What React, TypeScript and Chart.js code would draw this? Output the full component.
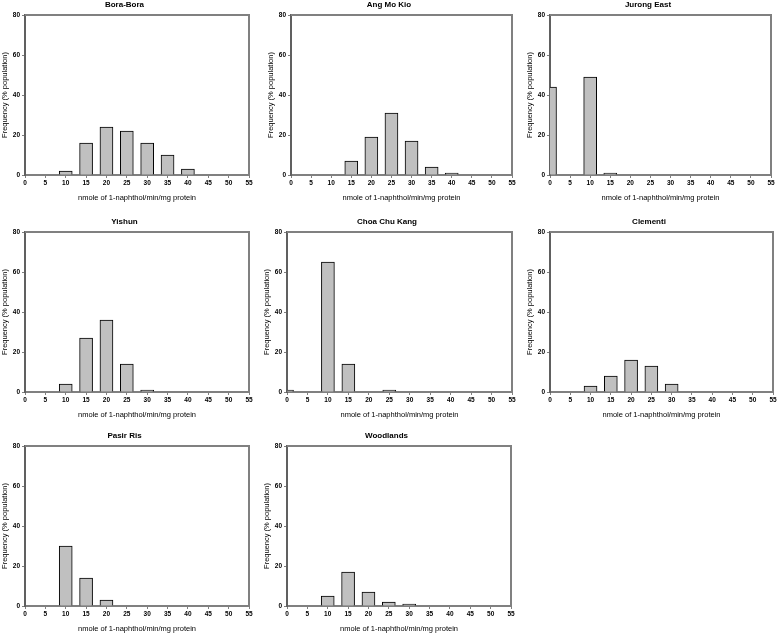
import React, { useEffect, useRef } from "react";
import { Chart, registerables } from "chart.js";

Chart.register(...registerables);

const BINS = [0, 5, 10, 15, 20, 25, 30, 35, 40, 45, 50, 55];
const Y_TICKS = [0, 20, 40, 60, 80];

const boraBora = [0, 0, 2, 16, 24, 22, 16, 10, 3, 0, 0, 0];
const angMoKio = [0, 0, 0, 7, 19, 31, 17, 4, 1, 0, 0, 0];
const jurongEast = [44, 0, 49, 1, 0, 0, 0, 0, 0, 0, 0, 0];
const yishun = [0, 0, 4, 27, 36, 14, 1, 0, 0, 0, 0, 0];
const choaChuKang = [1, 0, 65, 14, 0, 1, 0, 0, 0, 0, 0, 0];
const clementi = [0, 0, 3, 8, 16, 13, 4, 0, 0, 0, 0, 0];
const pasirRis = [0, 0, 30, 14, 3, 0, 0, 0, 0, 0, 0, 0];
const woodlands = [0, 0, 5, 17, 7, 2, 1, 0, 0, 0, 0, 0];

const TITLES = ["Bora-Bora", "Ang Mo Kio", "Jurong East", "Yishun", "Choa Chu Kang", "Clementi", "Pasir Ris", "Woodlands"];
const SERIES = [boraBora, angMoKio, jurongEast, yishun, choaChuKang, clementi, pasirRis, woodlands];

const X_TITLE = "nmole of 1-naphthol/min/mg protein";
const Y_TITLE = "Frequency (% population)";

// plot-area rectangles on the page: [left, top, right, bottom]
const AREAS: number[][] = [
  [24.5, 15, 249, 175],
  [291, 15, 512, 175],
  [550, 15, 771, 175],
  [24.5, 232, 249, 392],
  [287, 232, 512, 392],
  [550, 232, 773, 392],
  [24.5, 446, 249, 606],
  [287, 446, 511, 606],
];

const Y_W = 25;
const TOP_H = 17;
const X_H = 27;
const RIGHT_PAD = 8;
const FONT = "'Liberation Sans', Arial, Helvetica, sans-serif";
const GRAY = "#808080";

const framePlugin = {
  id: "frame",
  afterDatasetsDraw(chart: any) {
    const { ctx, chartArea } = chart;
    ctx.save();
    ctx.strokeStyle = GRAY;
    ctx.lineWidth = 2;
    ctx.beginPath();
    ctx.moveTo(chartArea.left, chartArea.top);
    ctx.lineTo(chartArea.right, chartArea.top);
    ctx.lineTo(chartArea.right, chartArea.bottom);
    ctx.stroke();
    ctx.restore();
  },
};

function Panel({ idx }: { idx: number }) {
  const ref = useRef<HTMLCanvasElement>(null);
  const [l, t, r, b] = AREAS[idx];
  const w = Y_W + (r - l) + RIGHT_PAD;
  const h = TOP_H + (b - t) + X_H;
  useEffect(() => {
    const values = SERIES[idx];
    const data = BINS.map((x, i) => ({ x, y: values[i] })).filter((p) => p.y > 0);
    const chart = new Chart(ref.current as HTMLCanvasElement, {
      type: "bar",
      data: {
        datasets: [
          {
            data: data as any,
            backgroundColor: "#c0c0c0",
            borderColor: "#000000",
            borderWidth: 1,
            barThickness: 13,
            clip: 0 as any,
          },
        ],
      },
      options: {
        animation: false,
        responsive: false,
        events: [],
        layout: { padding: { left: 0, top: 0, right: RIGHT_PAD, bottom: 0 } },
        plugins: {
          legend: { display: false },
          tooltip: { enabled: false },
          title: {
            display: true,
            text: TITLES[idx],
            color: "#000",
            font: { family: FONT, size: 8, weight: "bold", lineHeight: 1.2 },
            padding: { top: 2, bottom: 5.4 },
          },
        },
        scales: {
          x: {
            type: "linear",
            min: 0,
            max: 55,
            offset: false,
            afterBuildTicks: (s: any) => {
              s.ticks = BINS.map((v) => ({ value: v }));
            },
            afterFit: (s: any) => {
              s.height = X_H;
              s.paddingLeft = 0;
              s.paddingRight = 0;
            },
            ticks: {
              color: "#000",
              font: { family: FONT, size: 6.5, weight: "bold" },
              padding: 1,
              maxRotation: 0,
              autoSkip: false,
            },
            grid: { display: true, drawOnChartArea: false, drawTicks: true, tickLength: 3, color: GRAY, offset: false },
            border: { display: true, color: GRAY, width: 2 },
            title: {
              display: true,
              text: X_TITLE,
              color: "#000",
              font: { family: FONT, size: 7.5, lineHeight: 1.2 },
              padding: { top: 0, bottom: 0 },
            },
          },
          y: {
            type: "linear",
            min: 0,
            max: 80,
            afterBuildTicks: (s: any) => {
              s.ticks = Y_TICKS.map((v) => ({ value: v }));
            },
            afterFit: (s: any) => {
              s.width = Y_W;
              s.paddingTop = 0;
              s.paddingBottom = 0;
            },
            ticks: {
              color: "#000",
              font: { family: FONT, size: 6.5, weight: "bold" },
              padding: 2,
            },
            grid: { display: true, drawOnChartArea: false, drawTicks: true, tickLength: 3, color: GRAY },
            border: { display: true, color: "#606060", width: 2 },
            title: {
              display: true,
              text: Y_TITLE,
              color: "#000",
              font: { family: FONT, size: 7.5, lineHeight: 1.2 },
              padding: { top: 0, bottom: 0 },
            },
          },
        },
      },
      plugins: [framePlugin],
    });
    return () => chart.destroy();
  }, [idx]);
  return (
    <canvas
      ref={ref}
      width={w}
      height={h}
      style={{ position: "absolute", left: l - Y_W, top: t - TOP_H, width: w, height: h }}
    />
  );
}

export default function App() {
  return (
    <div style={{ position: "fixed", left: 0, top: 0, width: 778, height: 633, background: "#fff", overflow: "hidden" }}>
      {TITLES.map((_, i) => (
        <Panel key={i} idx={i} />
      ))}
    </div>
  );
}
